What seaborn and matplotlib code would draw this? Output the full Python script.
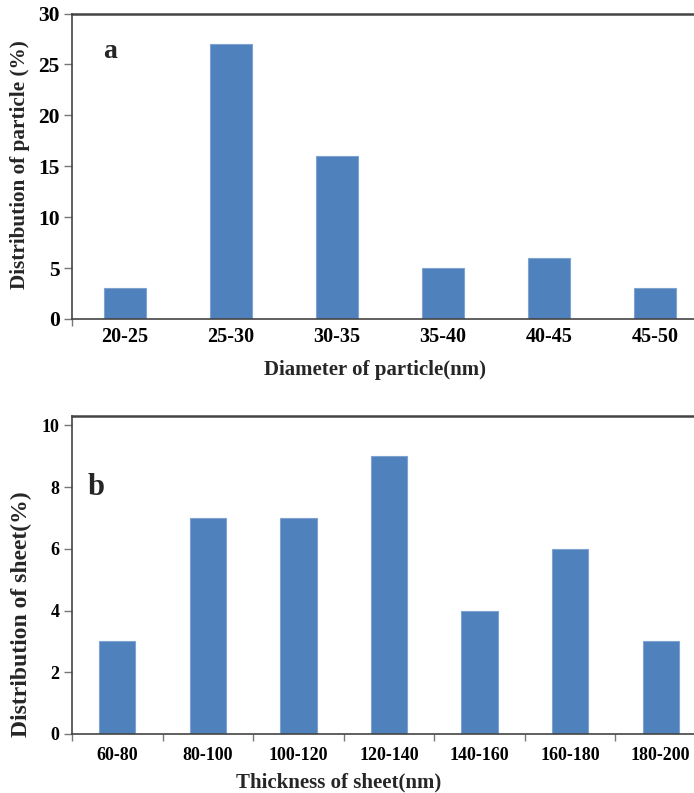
import matplotlib
matplotlib.use("Agg")
import matplotlib.pyplot as plt
import seaborn as sns
import pandas as pd
import numpy as np

# Size distributions of particles (a) and sheets (b)
particle_bins = ["20-25", "25-30", "30-35", "35-40", "40-45", "45-50"]
particle_pct = [3, 27, 16, 5, 6, 3]

sheet_bins = ["60-80", "80-100", "100-120", "120-140", "140-160", "160-180", "180-200"]
sheet_pct = [3, 7, 7, 9, 4, 6, 3]

particle_df = pd.DataFrame({"bin": particle_bins, "pct": particle_pct})
sheet_df = pd.DataFrame({"bin": sheet_bins, "pct": sheet_pct})

sns.set_theme(style="white")
plt.rcParams["font.family"] = ["Liberation Serif", "DejaVu Serif"]
plt.rcParams["font.weight"] = "bold"
plt.rcParams["axes.labelweight"] = "bold"

BAR = "#4F81BD"
EDGE = "#7FA3D0"
SPINE = "#444444"
W, H = 694, 793

fig = plt.figure(figsize=(W / 100, H / 100), dpi=100)
ax1 = fig.add_axes([72 / W, (H - 319) / H, 636 / W, 305.5 / H])
ax2 = fig.add_axes([72 / W, (H - 734) / H, 634 / W, 318 / H])


def style_axes(ax, ymax, yticks, ytick_fs, xtick_fs, cat_pad, boundary_ticks):
    ax.set_ylim(0, ymax)
    ax.set_xlim(-0.5, len(ax.get_xticks()) - 0.5)
    ax.set_yticks(yticks)
    for side in ("top", "left", "bottom"):
        ax.spines[side].set_visible(True)
        ax.spines[side].set_color(SPINE)
        ax.spines[side].set_linewidth(1.2)
    ax.spines["top"].set_linewidth(1.8)
    ax.spines["right"].set_visible(False)
    ax.tick_params(axis="y", left=True, direction="out", length=6, width=1,
                   color="#777777", labelsize=ytick_fs, pad=3, labelcolor="black")
    ax.tick_params(axis="x", which="major", bottom=True, length=0,
                   labelsize=xtick_fs, pad=cat_pad, labelcolor="black")
    n = len(ax.get_xticks())
    if boundary_ticks:
        ax.set_xticks(np.arange(-0.5, n, 1.0), minor=True)
    else:
        ax.set_xticks([-0.5], minor=True)
    ax.tick_params(axis="x", which="minor", bottom=True, direction="out",
                   length=5, width=1, color="#777777")
    for lbl in ax.get_xticklabels() + ax.get_yticklabels():
        lbl.set_fontweight("bold")


# (a) particle diameter
sns.barplot(data=particle_df, x="bin", y="pct", ax=ax1, color=BAR,
            saturation=1, width=0.4, edgecolor=EDGE, linewidth=0.8)
style_axes(ax1, 30, [0, 5, 10, 15, 20, 25, 30], 15.5, 14.5, 6, False)
ax1.set_xlabel("Diameter of particle(nm)", fontsize=15, fontweight="bold")
ax1.xaxis.set_label_coords(0.476, -0.135)
ax1.xaxis.label.set_va("top")
ax1.set_ylabel("Distribution of particle (%)", fontsize=15.3, fontweight="bold")
ax1.yaxis.set_label_coords(-0.066, 0.505)
ax1.text(0.049, 0.854, "a", transform=ax1.transAxes, fontsize=20,
         fontweight="bold", ha="left", va="baseline")

# (b) sheet thickness
sns.barplot(data=sheet_df, x="bin", y="pct", ax=ax2, color=BAR,
            saturation=1, width=0.4, edgecolor=EDGE, linewidth=0.8)
style_axes(ax2, 10.3, [0, 2, 4, 6, 8, 10], 13, 13, 9, True)
ax2.set_xlabel("Thickness of sheet(nm)", fontsize=15, fontweight="bold")
ax2.xaxis.set_label_coords(0.42, -0.12)
ax2.xaxis.label.set_va("top")
ax2.set_ylabel("Distribution of sheet(%)", fontsize=17, fontweight="bold")
ax2.yaxis.set_label_coords(-0.063, 0.378)
ax2.text(0.024, 0.752, "b", transform=ax2.transAxes, fontsize=22,
         fontweight="bold", ha="left", va="baseline")

fig.savefig("out.png", dpi=100, facecolor="white")
